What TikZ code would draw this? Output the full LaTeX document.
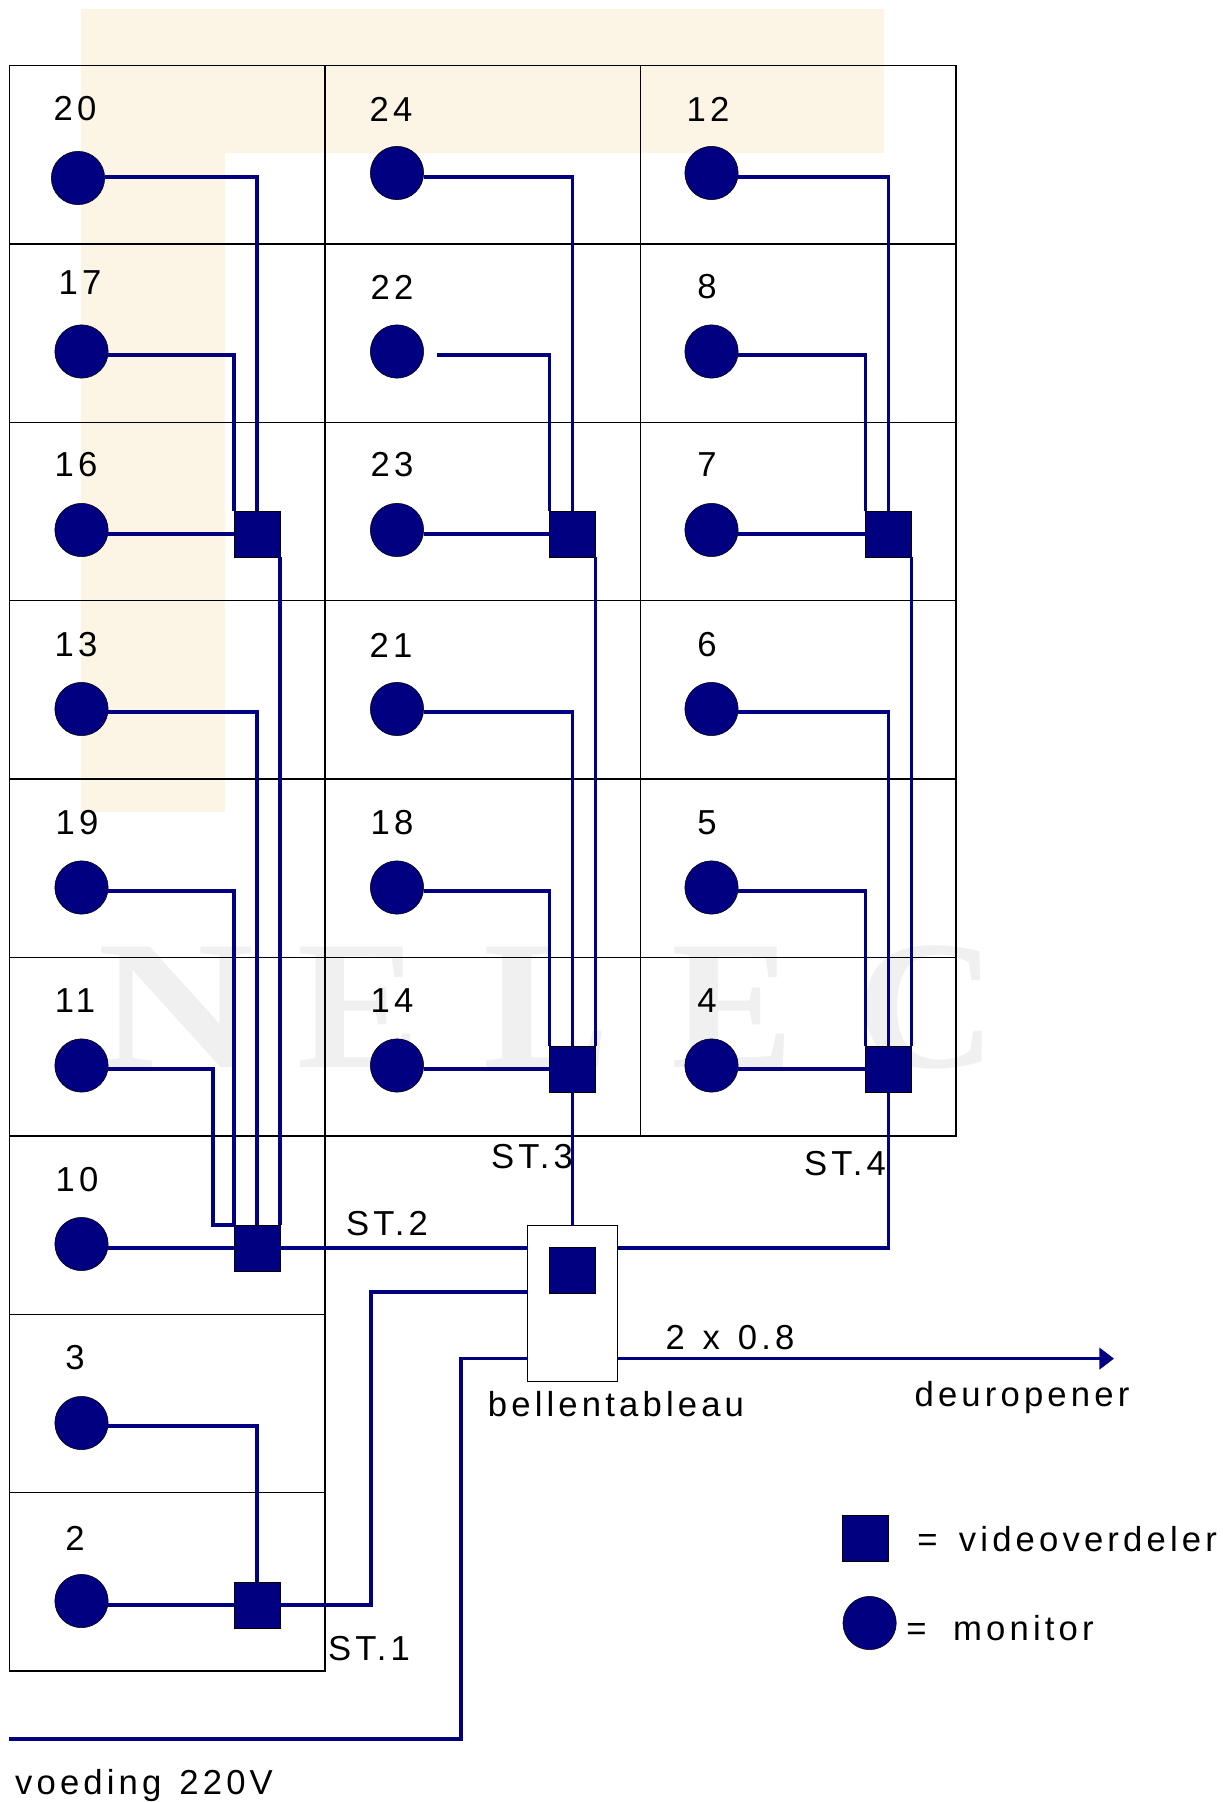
\documentclass[tikz,border=0pt]{standalone}
\usepackage{fontspec}
\setmainfont{Liberation Sans}[LetterSpace=12, WordSpace=1.3]
\newfontfamily\markfont{Liberation Serif}
\usetikzlibrary{arrows.meta}
\definecolor{wirecol}{RGB}{0,0,128}
\definecolor{beige}{RGB}{252,244,228}
\definecolor{markgray}{RGB}{240,240,240}
\tikzset{
  monitor/.style={circle, draw=black, line width=0.4pt, fill=wirecol, minimum size=40pt, inner sep=0pt, outer sep=0pt},
  verdeler/.style={rectangle, draw=black, line width=0.2pt, fill=wirecol, minimum size=34.5pt, inner sep=0pt, outer sep=0pt},
  wire/.style={draw=wirecol, line width=2.6pt},
  cell/.style={draw=black, line width=1pt},
  txt/.style={inner sep=0pt, yshift=-0.7pt, font=\fontsize{26}{30}\selectfont},
  wm/.style={inner sep=0pt, anchor=base, text=markgray, transform shape, font=\markfont\bfseries\fontsize{138}{138}\selectfont}
}
\begin{document}
\begin{tikzpicture}[x=0.75pt, y=-0.75pt]
  \useasboundingbox (0,0) rectangle (1223,1802);
  % achtergrond
  \fill[beige] (81,9) -- (884,9) -- (884,153) -- (225,153) -- (225,812) -- (81,812) -- cycle;
  \foreach \wname/\wx/\wsc/\wtxt in {wa/175.5/1.18/N, wb/359/1/E, wc/546.5/1.03/L, wd/733/1/E, we/926.5/1.06/C}
    \node[wm, xscale=\wsc] (\wname) at (\wx,1067) {\wtxt};
  % kader
  \foreach \c in {0,1,2}
    \foreach \r in {0,...,5}
      \draw[cell] ({9.5+315.5*\c},{65.5+178.4*\r}) rectangle ++(315.5,178.4);
  \foreach \r in {6,7,8}
    \draw[cell] (9.5,{65.5+178.4*\r}) rectangle ++(315.5,178.4);
  % monitoren
  \foreach \mname/\mx/\my/\tx/\ty in {
    20/78/178/75/108, 24/397/173/391/108, 12/711.5/173/708/108,
    17/81.5/351.5/80/282, 22/397/351.5/392/286, 8/711.5/351.5/707/286,
    16/81.5/530/76/464, 23/397/530/392/464, 7/711.5/530/707/464,
    13/81.5/709/76/644, 21/397/709/391/644, 6/711.5/709/707/644,
    19/81.5/887.5/77/822, 18/397/887.5/392/822, 5/711.5/887.5/707/822,
    11/81.5/1065.5/75/1000, 14/397/1065.5/392/1000, 4/711.5/1065.5/707/1000,
    10/81.5/1244/77/1179, 3/81.5/1423/75/1357, 2/81.5/1601/75/1537}
  {
    \node[monitor] (m\mname) at (\mx,\my) {};
    \node[txt] (t\mname) at (\tx,\ty) {\mname};
  }
  % videoverdelers
  \node[verdeler] (s16) at (257,534) {};
  \node[verdeler] (s23) at (572.5,534) {};
  \node[verdeler] (s7) at (888.5,534) {};
  \node[verdeler] (s14) at (572.5,1069) {};
  \node[verdeler] (s4) at (888.5,1069) {};
  \node[verdeler] (s10) at (257,1248) {};
  \node[verdeler] (s2) at (257,1605) {};
  \node[rectangle, draw=black, line width=0.6pt, fill=white, minimum width=67.5pt, minimum height=116.5pt, inner sep=0pt, outer sep=0pt] (box) at (572.5,1303.3) {};
  \node[verdeler] (s0) at (572.5,1270) {};
  % bedrading bovenste verdelers
  \draw[wire] (m20.east |- 0,177) -| (s16.north);
  \draw[wire] (m17.east |- 0,355) -| (s16.north west);
  \draw[wire] (m16.east |- s16) -- (s16.west);
  \draw[wire] (m24.east |- 0,177) -| (s23.north);
  \coordinate (free22) at (437,355);
  \draw[wire] (free22) -| (s23.north west);
  \draw[wire] (m23.east |- s23) -- (s23.west);
  \draw[wire] (m12.east |- 0,177) -| (s7.north);
  \draw[wire] (m8.east |- 0,355) -| (s7.north west);
  \draw[wire] (m7.east |- s7) -- (s7.west);
  % bedrading onderste verdelers
  \draw[wire] (m13.east |- 0,712) -| (s10.north);
  \draw[wire] (m19.east |- 0,891) -| (s10.north west);
  \coordinate (bend11) at (213,1225);
  \draw[wire] (m11.east |- 0,1069) -| (bend11) -- (s10.north west);
  \draw[wire] (m10.east |- s10) -- (s10.west);
  \draw[wire] (m21.east |- 0,712) -| (s14.north);
  \draw[wire] (m18.east |- 0,891) -| (s14.north west);
  \draw[wire] (m14.east |- s14) -- (s14.west);
  \draw[wire] (m6.east |- 0,712) -| (s4.north);
  \draw[wire] (m5.east |- 0,891) -| (s4.north west);
  \draw[wire] (m4.east |- s4) -- (s4.west);
  \draw[wire] (m3.east |- 0,1426) -| (s2.north);
  \draw[wire] (m2.east |- s2) -- (s2.west);
  % stijgleidingen
  \draw[wire] (s16.south east) -- (s10.north east);
  \draw[wire] (s23.south east) -- (s14.north east);
  \draw[wire] (s7.south east) -- (s4.north east);
  \draw[wire] (s10.east) -- (box.west |- s10);
  \draw[wire] (s14.south) -- (box.north);
  \draw[wire] (s4.south) |- (box.east |- s10);
  \coordinate (st1bend) at (371,1605);
  \draw[wire] (s2.east) -- (st1bend) |- (box.west |- 0,1292);
  % voeding en deuropener
  \coordinate (vstart) at (9,1739);
  \coordinate (vbend) at (461,1739);
  \coordinate (dend) at (1114,1358.6);
  \draw[wire] (vstart) -- (vbend) |- (box.west |- dend);
  \draw[wire, -{Triangle[length=11pt, width=16pt]}] (box.east |- dend) -- (dend);
  % teksten
  \node[txt] (st1) at (369,1648) {ST.1};
  \node[txt] (st2) at (387,1223) {ST.2};
  \node[txt] (st3) at (532,1156) {ST.3};
  \node[txt] (st4) at (845,1163) {ST.4};
  \node[txt] (draad) at (730,1337) {2 x 0.8};
  \node[txt] (bel) at (616,1403) {bellentableau};
  \node[txt] (deur) at (1022,1397) {deuropener};
  \node[txt] (voeding) at (144,1785) {voeding 220V};
  % legenda
  \node[verdeler] (legs) at (865.5,1538) {};
  \node[monitor] (legm) at (869.6,1623) {};
  \node[txt, anchor=west] (legst) at (917,1538) {=\hspace{.1em} videoverdeler};
  \node[txt, anchor=west] (legmt) at (906,1627) {=\hspace{.25em} monitor};
\end{tikzpicture}
\end{document}
